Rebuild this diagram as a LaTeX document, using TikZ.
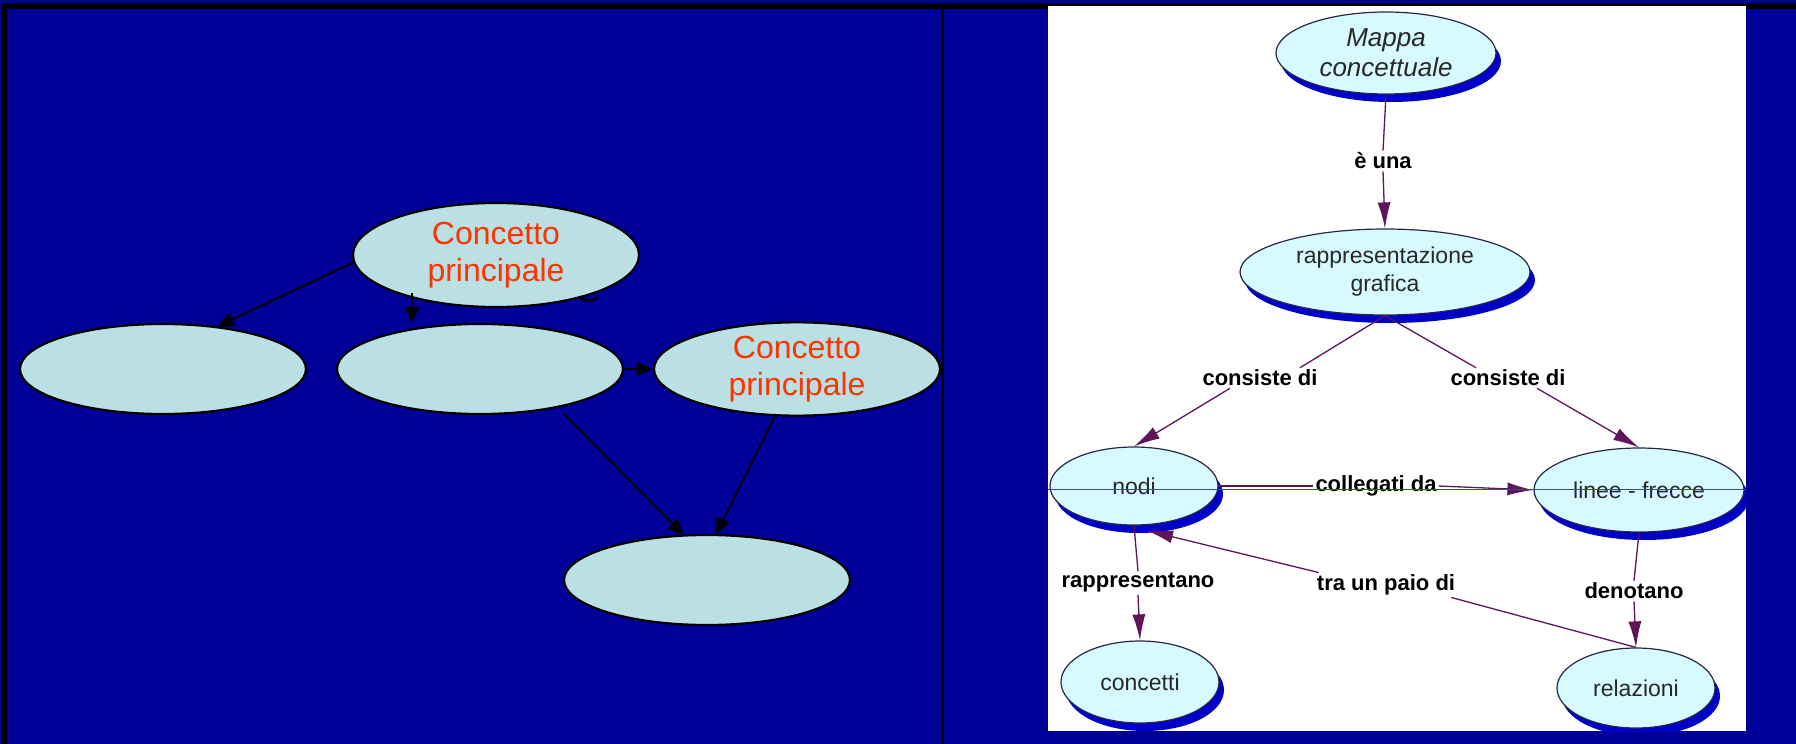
\documentclass[tikz,border=0pt]{standalone}
\usepackage{fontspec}
\setmainfont{Liberation Sans}
\usetikzlibrary{shapes.geometric,arrows.meta,calc,shadows}

\definecolor{slideblue}{RGB}{0,0,153}
\definecolor{conceptfill}{RGB}{187,224,227}
\definecolor{conceptred}{RGB}{255,51,0}
\definecolor{mapfill}{RGB}{214,250,255}
\definecolor{mapshadow}{RGB}{0,0,200}
\definecolor{mapedge}{RGB}{40,40,70}
\definecolor{maptext}{RGB}{40,40,40}
\definecolor{mapline}{RGB}{96,20,90}
\definecolor{guideblue}{RGB}{60,60,230}

\begin{document}
\begin{tikzpicture}[x=1pt,y=-1pt,
  slideell/.style={ellipse, draw=black, line width=2.2pt, fill=conceptfill,
    inner sep=0pt, text=conceptred, align=center,
    font=\fontsize{32}{37}\selectfont, minimum width=286pt, minimum height=90pt},
  slidearrow/.style={draw=black, line width=2pt, -{Triangle[length=16pt,width=14pt]}},
  mapnode/.style={ellipse, draw=mapedge, line width=1.2pt, fill=mapfill,
    inner sep=0pt, align=center, text=maptext,
    font=\fontsize{23}{28}\selectfont,
    drop shadow={shadow xshift=5pt, shadow yshift=-8pt, fill=mapshadow, opacity=1}},
  linklabel/.style={font=\bfseries\fontsize{22}{26}\selectfont, inner sep=2pt, text=black},
  maplink/.style={draw=mapline, line width=1.3pt},
  maparrow/.style={maplink, -{Latex[length=26pt,width=13pt]}, mapline}
]
\useasboundingbox (0,0) rectangle (1796,744);

% slide background and frame
\fill[slideblue] (0,0) rectangle (1796,744);
\fill[black] (1,3) rectangle (1796,8.5);
\fill[black] (1,3) rectangle (7,744);
\fill[black] (941,3) rectangle (943.7,744);

% ---------- left half: generic concept map ----------
\node[slideell, minimum height=104pt] (top) at (496,255) {Concetto\\principale};
\node[slideell] (L) at (163,369) {};
\node[slideell] (M) at (480,369) {};
\node[slideell] (R) at (797,369) {Concetto\\principale};
\node[slideell] (B) at (707,580) {};

\draw[slidearrow] (top.183) -- (L.38);
\draw[slidearrow] ($(top.center)+(-84,38)$) -- ($(M.center)+(-68,-46)$);
\draw[slidearrow] (M.east) -- (R.west);
\draw[slidearrow] ($(M.center)+(84,45)$) -- ($(B.center)+(-23,-45)$);
\draw[slidearrow] ($(R.center)+(-21,45)$) -- ($(B.center)+(9,-46)$);

% small leftover stroke under the top ellipse
\draw[line width=2.5pt] (579,297) .. controls (585,302) and (593,302) .. (598,297);

% ---------- right half: example concept map ----------
\fill[white] (1048,5.5) rectangle (1746,731);
\begin{scope}
\clip (1048,5.5) rectangle (1746,731);

\node[mapnode, minimum width=220pt, minimum height=82pt,
  font=\itshape\fontsize{26}{30}\selectfont] (mappa) at (1386,53) {Mappa\\concettuale};
\node[mapnode, minimum width=290pt, minimum height=86pt] (rapp) at (1385,272) {rappresentazione\\grafica};
\node[mapnode, minimum width=168pt, minimum height=78pt] (nodi) at (1134,486) {nodi};
\node[mapnode, minimum width=210pt, minimum height=84pt] (linee) at (1639,490) {linee - frecce};
\node[mapnode, minimum width=158pt, minimum height=82pt] (concetti) at (1140,682) {concetti};
\node[mapnode, minimum width=158pt, minimum height=80pt] (relazioni) at (1636,688) {relazioni};

\node[linklabel] (euna) at (1383,161) {è una};
\node[linklabel] (consL) at (1260,378) {consiste di};
\node[linklabel] (consR) at (1508,378) {consiste di};
\node[linklabel] (colleg) at (1376,486) {collegati da};
\node[linklabel] (rappr) at (1138,583) {rappresentano};
\node[linklabel] (tra) at (1386,585) {tra un paio di};
\node[linklabel] (denot) at (1634,591) {denotano};

\draw[maplink] (mappa.south) -- (euna.north);
\draw[maparrow] (euna.south) -- (rapp.north);
\draw[maplink] (rapp.south) -- ($(consL.north)+(40,0)$);
\draw[maplink] (rapp.south) -- ($(consR.north)+(-32,0)$);
\draw[maparrow] ($(consL.south)+(-30,0)$) -- (nodi.north);
\draw[maparrow] ($(consR.south)+(29,0)$) -- (linee.north);
\draw[maplink] (nodi.east) -- (colleg.west);
\draw[maparrow] (colleg.east) -- (linee.west);
\draw[maplink] (nodi.south) -- (rappr.north);
\draw[maparrow] (rappr.south) -- (concetti.north);
\draw[maplink] (linee.south) -- (denot.north);
\draw[maparrow] (denot.south) -- (relazioni.north);
\draw[maplink] (relazioni.north) -- ($(tra.south east)+(-6,0)$);
\draw[maparrow] ($(tra.north west)+(4,0)$) -- ($(nodi.south)+(13,5)$);

% thin horizontal guide line across the screenshot
\draw[guideblue, line width=1pt] (1048,489) -- (1746,489);
\end{scope}
\end{tikzpicture}
\end{document}
